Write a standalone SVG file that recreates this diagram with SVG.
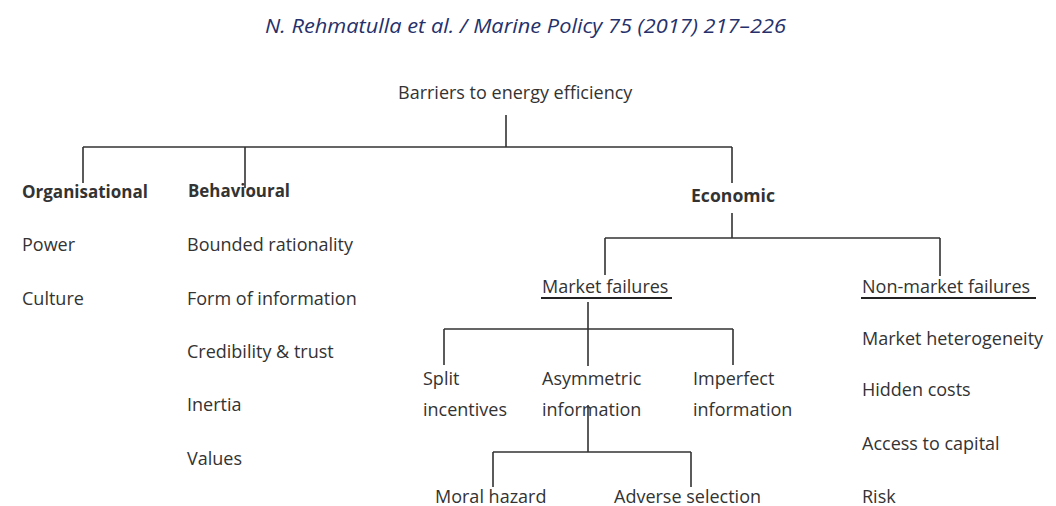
<svg xmlns="http://www.w3.org/2000/svg" width="1056" height="506" viewBox="0 0 1056 506">
  <style>
    .t { font-family: "Open Sans", "Noto Sans", sans-serif; font-size: 18px; fill: #333; }
    .b { font-weight: bold; }
    .hdr { font-family: "Open Sans", "Noto Sans", sans-serif; font-style: italic; font-size: 20px; fill: #26316b; }
    .c { stroke: #333; stroke-width: 1.6; fill: none; }
    .u { stroke: #222; stroke-width: 2; }
  </style>
  <rect width="1056" height="506" fill="#fff"/>
  <text class="hdr" x="265" y="33" textLength="521" lengthAdjust="spacingAndGlyphs">N. Rehmatulla et al. / Marine Policy 75 (2017) 217–226</text>

  <g id="connectors">
    <path class="c" d="M506 115 V147 M83 147 H732 M83 147 V183 M245 147 V188 M732 147 V183"/>
    <path class="c" d="M732 213 V238 M605 238 H940 M605 238 V275 M940 238 V276"/>
    <path class="c" d="M588 302 V366 M444 329 H733 M444 329 V365 M733 329 V365"/>
    <path class="c" d="M588 405 V452 M493 452 H691 M493 452 V487 M691 452 V487"/>
  </g>

  <g id="root"><text class="t" x="398" y="99">Barriers to energy efficiency</text></g>

  <g id="organisational">
    <text class="t b" x="22" y="198" textLength="126" lengthAdjust="spacingAndGlyphs">Organisational</text>
    <text class="t" x="22" y="251">Power</text>
    <text class="t" x="22" y="305">Culture</text>
  </g>

  <g id="behavioural">
    <text class="t b" x="188" y="197" textLength="102" lengthAdjust="spacingAndGlyphs">Behavioural</text>
    <text class="t" x="187" y="251">Bounded rationality</text>
    <text class="t" x="187" y="305">Form of information</text>
    <text class="t" x="187" y="358">Credibility &amp; trust</text>
    <text class="t" x="187" y="411">Inertia</text>
    <text class="t" x="187" y="465">Values</text>
  </g>

  <g id="economic"><text class="t b" x="691" y="202" textLength="84" lengthAdjust="spacingAndGlyphs">Economic</text></g>

  <g id="market-failures">
    <text class="t" x="542" y="293">Market failures</text>
    <line class="u" x1="541" y1="298" x2="672" y2="298"/>
  </g>

  <g id="non-market-failures">
    <text class="t" x="862" y="293">Non-market failures</text>
    <line class="u" x1="861" y1="298" x2="1036" y2="298"/>
    <text class="t" x="862" y="345">Market heterogeneity</text>
    <text class="t" x="862" y="396">Hidden costs</text>
    <text class="t" x="862" y="450">Access to capital</text>
    <text class="t" x="862" y="503">Risk</text>
  </g>

  <g id="split-incentives">
    <text class="t" x="423" y="385">Split</text>
    <text class="t" x="423" y="416">incentives</text>
  </g>
  <g id="asymmetric-information">
    <text class="t" x="542" y="385">Asymmetric</text>
    <text class="t" x="542" y="416">information</text>
  </g>
  <g id="imperfect-information">
    <text class="t" x="693" y="385">Imperfect</text>
    <text class="t" x="693" y="416">information</text>
  </g>
  <g id="moral-hazard"><text class="t" x="435" y="503">Moral hazard</text></g>
  <g id="adverse-selection"><text class="t" x="614" y="503">Adverse selection</text></g>
</svg>
